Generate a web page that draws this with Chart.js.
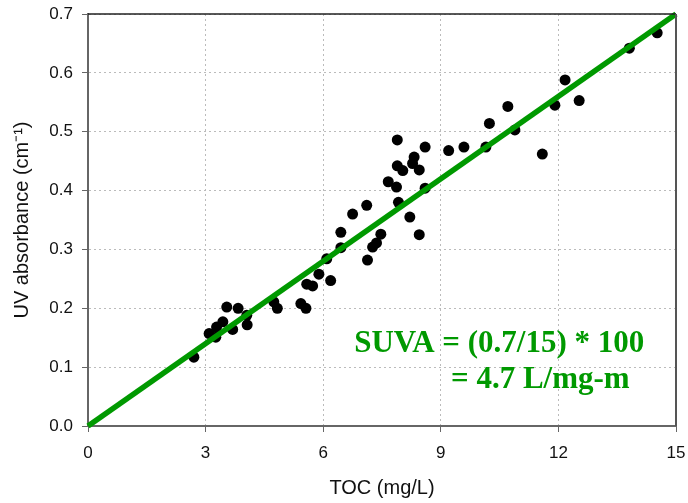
<!DOCTYPE html>
<html>
<head>
<meta charset="utf-8">
<script src="https://cdn.jsdelivr.net/npm/chart.js@4/dist/chart.umd.min.js"></script>
<style>
  html, body { margin: 0; padding: 0; background: #fff; }
  #wrap { width: 688px; height: 503px; position: relative; }
</style>
</head>
<body>
<div id="wrap"><canvas id="myChart"></canvas></div>
<script>
// TOC (mg/L) vs UV absorbance (cm-1)
const tocValues = [2.70, 3.09, 3.26, 3.28, 3.44, 3.54, 3.69, 3.83, 4.05, 4.06,
                   4.74, 4.83, 5.43, 5.56, 5.58, 5.73, 5.89, 6.19, 6.09, 6.45,
                   6.45, 6.75, 7.11, 7.13, 7.26, 7.36, 7.47, 7.66, 7.87, 7.92,
                   7.89, 8.60, 8.32, 7.89, 8.03, 8.28, 8.45, 8.60, 8.21, 8.45,
                   9.20, 9.59, 10.15, 10.24, 10.71, 10.89, 11.59, 11.91, 12.17, 12.53,
                   13.81, 14.52];
const uvValues = [0.117, 0.157, 0.151, 0.168, 0.177, 0.202, 0.164, 0.200, 0.188, 0.172,
                  0.211, 0.200, 0.208, 0.200, 0.241, 0.238, 0.258, 0.247, 0.284, 0.303,
                  0.329, 0.360, 0.375, 0.282, 0.304, 0.311, 0.326, 0.415, 0.406, 0.380,
                  0.486, 0.474, 0.457, 0.442, 0.434, 0.446, 0.435, 0.404, 0.355, 0.325,
                  0.468, 0.474, 0.474, 0.514, 0.543, 0.503, 0.462, 0.545, 0.588, 0.553,
                  0.642, 0.668];

// SUVA line through origin
const lineToc = [0, 15];
const lineUv = [0, 0.7];

const xTicks = [0, 3, 6, 9, 12, 15];
const yTicks = [0, 0.1, 0.2, 0.3, 0.4, 0.5, 0.6, 0.7];

const suvaText = ['SUVA = (0.7/15) * 100', '= 4.7 L/mg-m'];

const green = 'rgb(0, 153, 0)';

const points = tocValues.map((x, i) => ({x: x, y: uvValues[i]}));
const linePts = lineToc.map((x, i) => ({x: x, y: lineUv[i]}));

// top and right frame lines
const frame = {
  id: 'frame',
  afterDraw(chart) {
    const c = chart.ctx, a = chart.chartArea;
    c.save();
    c.strokeStyle = '#222';
    c.lineWidth = 1.5;
    c.beginPath();
    c.moveTo(a.left, a.top);
    c.lineTo(a.right, a.top);
    c.stroke();
    c.strokeStyle = '#555';
    c.lineWidth = 2;
    c.beginPath();
    c.moveTo(a.right, a.top);
    c.lineTo(a.right, a.bottom);
    c.stroke();
    c.restore();
  }
};

// SUVA annotation
const note = {
  id: 'note',
  afterDatasetsDraw(chart) {
    const c = chart.ctx, xs = chart.scales.x, ys = chart.scales.y;
    c.save();
    c.fillStyle = green;
    c.font = 'bold 31px "Liberation Serif", "Times New Roman", serif';
    c.textBaseline = 'alphabetic';
    c.textAlign = 'left';
    c.fillText(suvaText[0], xs.getPixelForValue(6.79), ys.getPixelForValue(0.126));
    c.fillText(suvaText[1], xs.getPixelForValue(9.26), ys.getPixelForValue(0.064));
    c.restore();
  }
};

const ctx = document.getElementById('myChart').getContext('2d');
const chart = new Chart(ctx, {
  type: 'scatter',
  data: {
    datasets: [
      {
        type: 'line',
        data: linePts,
        borderColor: green,
        borderWidth: 5.5,
        borderCapStyle: 'butt',
        pointRadius: 0,
        fill: false,
        clip: false,
        order: 0
      },
      {
        data: points,
        backgroundColor: '#000',
        borderWidth: 0,
        pointRadius: 5.5,
        order: 1
      }
    ]
  },
  options: {
    responsive: true,
    maintainAspectRatio: false,
    animation: false,
    layout: { padding: { top: 14, right: 12, left: 0, bottom: 0 } },
    plugins: { legend: { display: false }, tooltip: { enabled: false } },
    scales: {
      x: {
        type: 'linear',
        min: 0, max: 15,
        afterBuildTicks: (s) => { s.ticks = xTicks.map(v => ({value: v})); },
        afterFit: (s) => { s.height = 77; s.paddingLeft = 0; s.paddingRight = 0; },
        ticks: {
          color: '#111',
          font: { family: '"Liberation Sans", Arial, sans-serif', size: 17 },
          padding: 11,
          maxRotation: 0
        },
        grid: { color: '#bbb', tickColor: '#666', tickLength: 6, drawTicks: true },
        border: { color: '#666', width: 2, dash: [2, 3] },
        title: {
          display: true,
          text: 'TOC (mg/L)',
          color: '#111',
          font: { family: '"Liberation Sans", Arial, sans-serif', size: 20 },
          padding: { top: 3, bottom: 3 }
        }
      },
      y: {
        min: 0, max: 0.7,
        afterBuildTicks: (s) => { s.ticks = yTicks.map(v => ({value: v})); },
        afterFit: (s) => { s.width = 88; s.paddingTop = 0; s.paddingBottom = 0; },
        ticks: {
          color: '#111',
          font: { family: '"Liberation Sans", Arial, sans-serif', size: 17 },
          padding: 9,
          callback: (v) => v.toFixed(1)
        },
        grid: { color: '#bbb', tickColor: '#666', tickLength: 6, drawTicks: true },
        border: { color: '#666', width: 2, dash: [2, 3] },
        title: {
          display: true,
          text: 'UV absorbance (cm\u207B\u00B9)',
          color: '#111',
          font: { family: '"Liberation Sans", Arial, sans-serif', size: 20 },
          padding: { top: 10, bottom: 3 }
        }
      }
    }
  },
  plugins: [frame, note]
});
</script>
</body>
</html>
